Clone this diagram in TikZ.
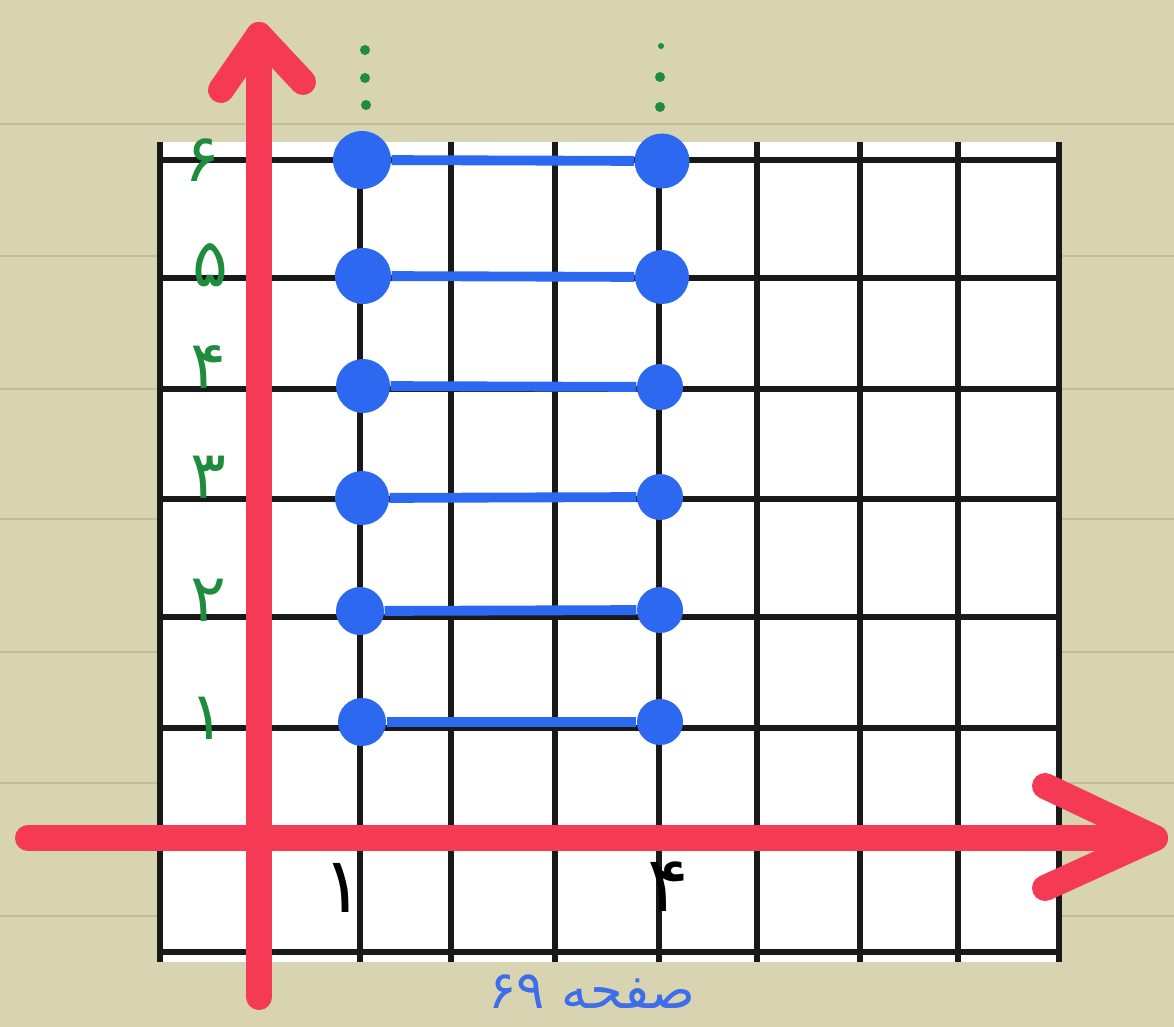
\documentclass[tikz,border=0pt]{standalone}
\usepackage{fontspec}
\usepackage{tikz}
\newfontfamily\arabicfont[Script=Arabic]{DejaVu Sans}
\TeXXeTstate=1

\definecolor{paper}{RGB}{216,211,176}
\definecolor{ruling}{RGB}{194,188,154}
\definecolor{axisred}{RGB}{245,58,85}
\definecolor{inkblue}{RGB}{45,105,240}
\definecolor{pageblue}{RGB}{60,110,235}
\definecolor{inkgreen}{RGB}{30,140,60}

\tikzset{
  axisline/.style={axisred, line width=7.4pt, line cap=round, line join=round},
  gridline/.style={black!90, line width=1.6pt},
  dot/.style={circle, fill=inkblue, inner sep=0pt, minimum size=#1},
  dot/.default=4.6mm,
  rung/.style={inkblue, line width=2.8pt},
  ylabel/.style={inkgreen, font=\arabicfont\fontsize{19}{19}\selectfont},
  xlabel/.style={black, font=\arabicfont\fontsize{22}{22}\selectfont},
  pagelabel/.style={pageblue, font=\arabicfont\fontsize{15}{15}\selectfont},
}

\begin{document}
\begin{tikzpicture}[x=0.1mm, y=-0.1mm]
        % Paper
        \fill[paper] (0,0) rectangle (1174,1027);
        \useasboundingbox (0,0) rectangle (1174,1027);
        \foreach \y in {124,256,389,519,652,783,916}
            \draw[ruling, line width=0.6pt] (0,\y) -- (1174,\y);

        % Grid
        \fill[white] (158,142) rectangle (1061,962);
        \foreach \x in {160,260,360,451,555,659,757,860,958,1059}
            \draw[gridline] (\x,142) -- (\x,962);
        \foreach \y in {160,278,389,499,617,728,838,952}
            \draw[gridline] (158,\y) -- (1061,\y);

        % Axes
        \coordinate (xstart) at (28,838);
        \coordinate (xend) at (1155,838);
        \coordinate (ystart) at (259,997);
        \coordinate (yend) at (259,35);
        \draw[axisline] (xstart) -- (xend);
        \draw[axisline] (xend) ++(-110,-52) -- (xend) -- ++(-110,50);
        \draw[axisline] (ystart) -- (yend);
        \draw[axisline] (yend) ++(-38,55) -- (yend) -- ++(44,47);

        % Points
        \node[dot=5.8mm] (l6) at (362,160) {};
        \node[dot=5.6mm] (l5) at (363,276) {};
        \node[dot=5.4mm] (l4) at (363,386) {};
        \node[dot=5.4mm] (l3) at (362,498) {};
        \node[dot=4.8mm] (l2) at (360,611) {};
        \node[dot=4.8mm] (l1) at (362,722) {};
        \node[dot=5.5mm] (r6) at (662,161) {};
        \node[dot=5.4mm] (r5) at (662,277) {};
        \node[dot] (r4) at (660,387) {};
        \node[dot] (r3) at (660,497) {};
        \node[dot] (r2) at (660,610) {};
        \node[dot] (r1) at (660,722) {};

        % Rungs
        \draw[rung] (l6) -- (r6);
        \draw[rung] (l5) -- (r5);
        \draw[rung] (l4) -- (r4);
        \draw[rung] (l3) -- (r3);
        \draw[rung] (l2) -- (r2);
        \draw[rung] (l1) -- (r1);

        % Dots going on upwards
        \fill[inkgreen] (365,50) circle (5) (365,78) circle (5) (366,105) circle (5);
        \fill[inkgreen] (661,46) circle (3) (660,77) circle (5) (660,107) circle (5);

        % Labels
        \node[ylabel] (n6) at (202,160) {۶};
        \node[ylabel] (n5) at (210,265) {۵};
        \node[ylabel] (n4) at (208,367) {۴};
        \node[ylabel] (n3) at (208,477) {۳};
        \node[ylabel] (n2) at (208,600) {۲};
        \node[ylabel] (n1) at (207,718) {۱};
        \node[xlabel] (m1) at (343,888) {۱};
        \node[xlabel] (m4) at (668,887) {۴};
        \node[pagelabel] (page) at (592,992) {\beginR صفحه ۶۹\endR};
    \end{tikzpicture}
\end{document}
